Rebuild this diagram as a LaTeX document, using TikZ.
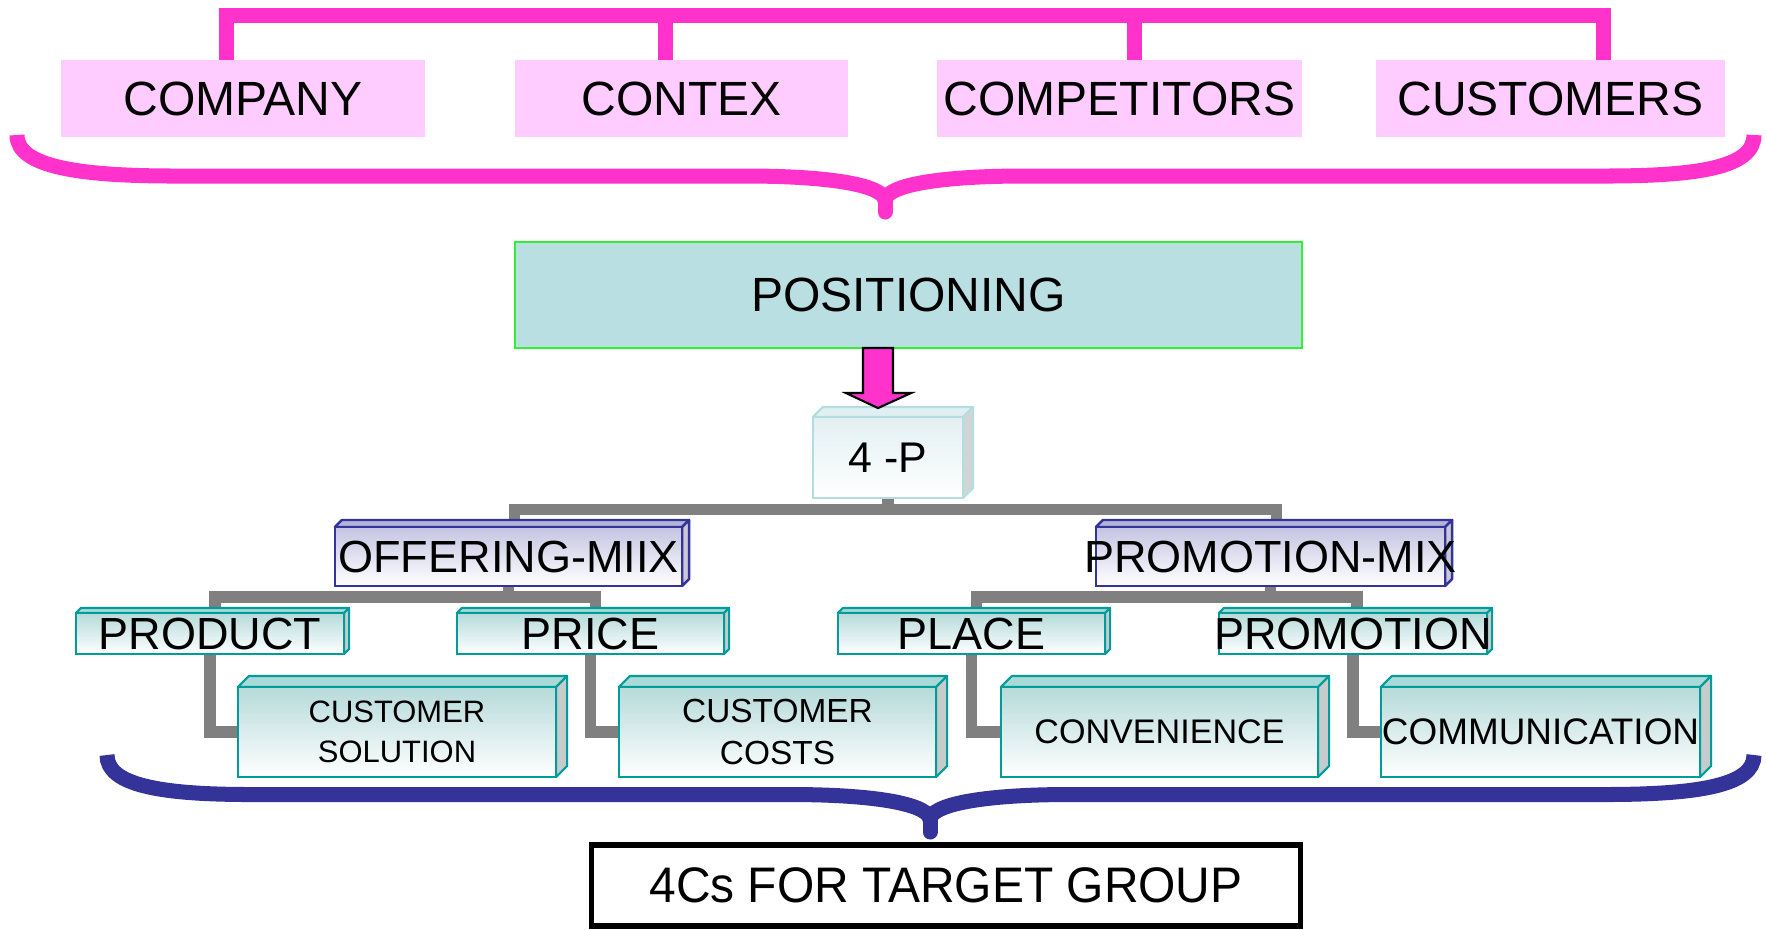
\documentclass[tikz,border=0pt]{standalone}
\usepackage{fontspec}
\usepackage{graphicx}
\setmainfont{Liberation Sans}
\usetikzlibrary{calc,backgrounds}

\definecolor{pinkline}{HTML}{FF33CC}
\definecolor{pinkbox}{HTML}{FFCCFF}
\definecolor{posfill}{HTML}{BADFE2}
\definecolor{posedge}{HTML}{33EE33}
\definecolor{treegrey}{HTML}{808080}
\definecolor{navy}{HTML}{333399}
\definecolor{mixtop}{HTML}{B4B4DA}
\definecolor{mixfront}{HTML}{C4C4E2}
\definecolor{mixside}{HTML}{C8C8D6}
\definecolor{tealedge}{HTML}{009B9B}
\definecolor{tealtop}{HTML}{A8DAD8}
\definecolor{tealfront}{HTML}{B6DADA}
\definecolor{tealside}{HTML}{C6CCCC}
\definecolor{fouredge}{HTML}{B3DDE0}
\definecolor{fourtop}{HTML}{E0F0F2}
\definecolor{fourfront}{HTML}{E2F0F2}
\definecolor{fourside}{HTML}{D0D6D6}

% box faces sit between the connectors and the labels
\pgfdeclarelayer{faces}
\pgfsetlayers{background,faces,main}

% top and right faces of a 3D box: node, depth, top fill, side fill, edge colour, edge width
\newcommand\cubefaces[6]{%
  \begin{pgfonlayer}{faces}
  \filldraw[fill=#3,draw=#5,line width=#6,line join=round]
    (#1.north west) -- ++(#2,#2) -- ($(#1.north east)+(#2,#2)$) -- (#1.north east) -- cycle;
  \filldraw[fill=#4,draw=#5,line width=#6,line join=round]
    (#1.north east) -- ++(#2,#2) -- ($(#1.south east)+(#2,#2)$) -- (#1.south east) -- cycle;
  \end{pgfonlayer}}

\begin{document}
\begin{tikzpicture}[x=0.01cm,y=-0.01cm,
  every node/.style={inner sep=0pt,outer sep=0pt,text=black},
  topbox/.style={fill=pinkbox,minimum height=0.77cm,
    font=\fontsize{13.66pt}{16pt}\selectfont},
  posbox/.style={fill=posfill,draw=posedge,line width=0.6pt,
    minimum width=7.87cm,minimum height=1.06cm,
    font=\fontsize{13.66pt}{16pt}\selectfont},
  fourbox/.style={top color=fourfront,bottom color=white,draw=fouredge,line width=0.6pt,
    minimum width=1.5cm,minimum height=0.81cm,
    font=\fontsize{12.2pt}{14pt}\selectfont},
  mixbox/.style={top color=mixfront,bottom color=white,draw=navy,line width=0.7pt,
    minimum height=0.59cm,font=\fontsize{12.8pt}{15pt}\selectfont},
  pbox/.style={top color=tealfront,bottom color=white,draw=tealedge,line width=0.6pt,
    minimum height=0.41cm,font=\fontsize{12.8pt}{15pt}\selectfont},
  cbox/.style={top color=tealfront,bottom color=white,draw=tealedge,line width=0.6pt,
    minimum width=3.18cm,minimum height=0.9cm,align=center},
  targetbox/.style={draw=black,line width=1.5pt,minimum width=7.09cm,minimum height=0.81cm,
    font=\fontsize{14.2pt}{16pt}\selectfont},
  pinkbar/.style={draw=pinkline,line width=4.27pt},
  tree/.style={draw=treegrey,line width=3.3pt},
  curly/.style={line width=4.27pt}]

\useasboundingbox (0,0) rectangle (1766,929);

% ---- environment boxes
\node[topbox,minimum width=3.64cm] (company) at (243,98.5) {COMPANY};
\node[topbox,minimum width=3.33cm] (contex) at (681.5,98.5) {CONTEX};
\node[topbox,minimum width=3.65cm] (competitors) at (1119.5,98.5) {COMPETITORS};
\node[topbox,minimum width=3.49cm] (customers) at (1550.5,98.5) {CUSTOMERS};

% ---- positioning
\node[posbox] (positioning) at (908.5,295) {POSITIONING};

% ---- 4-P
\node[fourbox] (fourp) at (888,457.5) {4 -P};
\cubefaces{fourp}{0.1cm}{fourtop}{fourside}{fouredge}{0.6pt}

% ---- mixes
\node[mixbox,minimum width=3.47cm] (offer) at (508.5,556.5) {\makebox[0pt]{OFFERING-MIIX}};
\cubefaces{offer}{0.07cm}{mixtop}{mixside}{navy}{0.7pt}
\node[mixbox,minimum width=3.49cm] (promix) at (1270.5,556.5) {\makebox[0pt]{PROMOTION-MIX}};
\cubefaces{promix}{0.07cm}{mixtop}{mixside}{navy}{0.7pt}

% ---- the four P
\node[pbox,minimum width=2.68cm] (product) at (210,633.5) {PRODUCT};
\cubefaces{product}{0.05cm}{tealtop}{tealside}{tealedge}{0.6pt}
\node[pbox,minimum width=2.67cm] (price) at (590.5,633.5) {PRICE};
\cubefaces{price}{0.05cm}{tealtop}{tealside}{tealedge}{0.6pt}
\node[pbox,minimum width=2.67cm] (place) at (971.5,633.5) {PLACE};
\cubefaces{place}{0.05cm}{tealtop}{tealside}{tealedge}{0.6pt}
\node[pbox,minimum width=2.68cm] (promotion) at (1353,633.5) {\makebox[0pt]{PROMOTION}};
\cubefaces{promotion}{0.05cm}{tealtop}{tealside}{tealedge}{0.6pt}

% ---- the four C
\node[cbox,font=\fontsize{8.8pt}{11.4pt}\selectfont] (custsol) at (397,732) {CUSTOMER\\SOLUTION};
\cubefaces{custsol}{0.11cm}{tealtop}{tealside}{tealedge}{0.6pt}
\node[cbox,minimum width=3.17cm,font=\fontsize{9.5pt}{12.1pt}\selectfont] (custcost) at (777.5,732) {CUSTOMER\\COSTS};
\cubefaces{custcost}{0.11cm}{tealtop}{tealside}{tealedge}{0.6pt}
\node[cbox,minimum width=3.17cm,font=\fontsize{9.7pt}{12pt}\selectfont] (conv) at (1159.5,732) {CONVENIENCE};
\cubefaces{conv}{0.11cm}{tealtop}{tealside}{tealedge}{0.6pt}
\node[cbox,minimum width=3.19cm,font=\fontsize{10.5pt}{12pt}\selectfont] (comm) at (1540.5,732) {\makebox[0pt]{COMMUNICATION}};
\cubefaces{comm}{0.11cm}{tealtop}{tealside}{tealedge}{0.6pt}

% ---- result
\node[targetbox] (target) at (946,885.5) {\scalebox{0.96}[1]{4Cs FOR TARGET GROUP}};

% ---- block arrow from positioning to 4-P
\coordinate (ax) at (878,0);
\coordinate (a0) at (positioning.south -| ax);
\filldraw[fill=pinkline,draw=black,line width=0.6pt]
  ($(a0)+(-15,0)$) -- ($(a0)+(-15,45)$) -- ($(a0)+(-32,45)$) -- ($(a0)+(0,60)$)
  -- ($(a0)+(33,45)$) -- ($(a0)+(15,45)$) -- ($(a0)+(15,0)$) -- cycle;

% ---- connectors behind the boxes
\begin{scope}[on background layer]
  % pink bracket over the environment boxes
  \coordinate (pbar) at (0,15);
  \coordinate (s1) at ($(company.north west)!0.456!(company.north east)$);
  \coordinate (s2) at ($(contex.north west)!0.453!(contex.north east)$);
  \coordinate (s3) at ($(competitors.north west)!0.542!(competitors.north east)$);
  \coordinate (s4) at ($(customers.north west)!0.653!(customers.north east)$);
  \draw[pinkbar] (s1) -- (s1 |- pbar) -- (s4 |- pbar) -- (s4);
  \draw[pinkbar] (s2) -- (s2 |- pbar);
  \draw[pinkbar] (s3) -- (s3 |- pbar);

  % grey tree
  \coordinate (t1) at (0,509.5);
  \coordinate (t2) at (0,597);
  \coordinate (offer-in) at ($(offer.north)+(6,0)$);
  \coordinate (promix-in) at ($(promix.north)+(6,0)$);
  \coordinate (product-in) at ($(product.north)+(5,0)$);
  \coordinate (price-in) at ($(price.north)+(5,0)$);
  \coordinate (place-in) at ($(place.north)+(5,0)$);
  \coordinate (promotion-in) at ($(promotion.north)+(4,0)$);
  \draw[tree] (fourp.south) -- (fourp.south |- t1);
  \draw[tree] (offer-in) -- (offer-in |- t1) -- (promix-in |- t1) -- (promix-in);
  \draw[tree] (offer.south) -- (offer.south |- t2);
  \draw[tree] (product-in) -- (product-in |- t2) -- (price-in |- t2) -- (price-in);
  \draw[tree] (promix.south) -- (promix.south |- t2);
  \draw[tree] (place-in) -- (place-in |- t2) -- (promotion-in |- t2) -- (promotion-in);
  \draw[tree] (product.south) |- (custsol.west);
  \draw[tree] (price.south) |- (custcost.west);
  \draw[tree] (place.south) |- (conv.west);
  \draw[tree] (promotion.south) |- (comm.west);
\end{scope}

% ---- pink curly brace under the environment boxes
\draw[curly,pinkline] (17,135) .. controls (17,167) and (80,176) .. (175,176)
  -- (745,176) .. controls (835,176) and (885,186) .. (885,201);
\draw[curly,pinkline] (885,201) .. controls (885,186) and (935,176) .. (1025,176)
  -- (1605,176) .. controls (1700,176) and (1754,167) .. (1754,135);
\draw[curly,pinkline,line cap=round] (885,197) -- (885,212);

% ---- blue curly brace under the four C
\draw[curly,navy] (107,755) .. controls (107,785) and (160,794.5) .. (250,794.5)
  -- (790,794.5) .. controls (880,794.5) and (930,805) .. (930,820);
\draw[curly,navy] (930,820) .. controls (930,805) and (980,794.5) .. (1070,794.5)
  -- (1605,794.5) .. controls (1700,794.5) and (1754,785) .. (1754,755);
\draw[curly,navy,line cap=round] (930,816) -- (930,832);

\end{tikzpicture}
\end{document}
